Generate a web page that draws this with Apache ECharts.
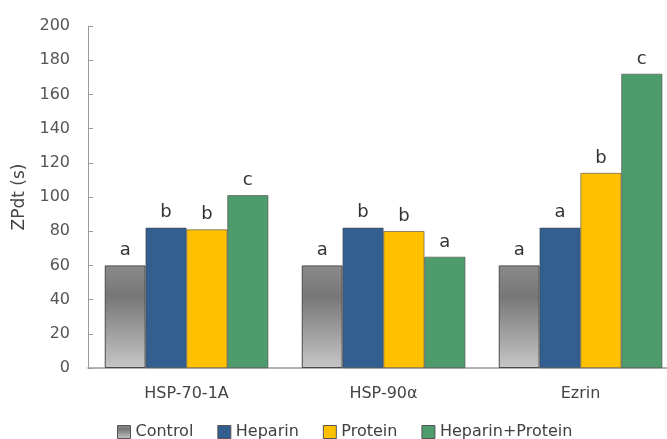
<!DOCTYPE html>
<html><head><meta charset="utf-8">
<script src="https://cdn.jsdelivr.net/npm/echarts@6/dist/echarts.min.js"></script>
<style>html,body{margin:0;padding:0;background:#fff}#c{width:667px;height:439px}</style>
</head><body><div id="c"></div>
<script>
const categories = ['HSP-70-1A', 'HSP-90\u03b1', 'Ezrin'];
const seriesNames = ['Control', 'Heparin', 'Protein', 'Heparin+Protein'];
const control = [60, 60, 60];
const heparin = [82, 82, 82];
const protein = [81, 80, 114];
const heparinProtein = [101, 65, 172];
const letters = [
  ['a', 'a', 'a'],
  ['b', 'b', 'a'],
  ['b', 'b', 'b'],
  ['c', 'a', 'c']
];
const yTicks = [0, 200, 20];

const font = '"DejaVu Sans", sans-serif';
const controlFill = new echarts.graphic.LinearGradient(0, 0, 0, 1, [
  {offset: 0, color: '#8a8a8a'},
  {offset: 0.3, color: '#777777'},
  {offset: 1, color: '#c6c6c6'}
]);
const fills = [controlFill, '#335e90', '#ffc000', '#4e9b6c'];
const values = [control, heparin, protein, heparinProtein];

const chart = echarts.init(document.getElementById('c'), null, {renderer: 'canvas'});
chart.setOption({
  animation: false,
  textStyle: {fontFamily: font},
  grid: {left: 88, right: -12, top: 26, bottom: 71, containLabel: false, outerBoundsMode: 'none'},
  legend: {
    top: 419, left: 112, icon: 'rect',
    itemWidth: 13, itemHeight: 13, itemGap: 24,
    textStyle: {fontFamily: font, fontSize: 16, color: '#404040'},
    data: seriesNames.map((n, i) => ({name: n, itemStyle: {borderColor: '#555', borderWidth: 1}}))
  },
  xAxis: {
    type: 'category', data: categories,
    axisLine: {lineStyle: {color: '#9a9a9a', width: 1.5}},
    axisTick: {show: false},
    axisLabel: {fontFamily: font, fontSize: 16, color: '#444', margin: 18}
  },
  yAxis: {
    type: 'value', min: yTicks[0], max: yTicks[1], interval: yTicks[2],
    name: 'ZPdt (s)', nameLocation: 'middle', nameGap: 48, nameRotate: 90,
    nameTextStyle: {fontFamily: font, fontSize: 17, color: '#444'},
    axisLine: {show: true, lineStyle: {color: '#9a9a9a', width: 1}},
    axisTick: {show: true, inside: true, length: 5, lineStyle: {color: '#9a9a9a'}},
    splitLine: {show: false},
    axisLabel: {fontFamily: font, fontSize: 16, color: '#555', margin: 18}
  },
  series: seriesNames.map((n, i) => ({
    name: n, type: 'bar', data: values[i],
    barGap: '0%', barCategoryGap: '17%',
    itemStyle: {color: fills[i], borderColor: '#4a4a4a', borderWidth: i === 0 ? 1 : 0.6},
    label: {
      show: true, position: 'top', distance: 6,
      fontFamily: font, fontSize: 18, color: '#333',
      formatter: p => letters[i][p.dataIndex]
    }
  }))
});
</script></body></html>
